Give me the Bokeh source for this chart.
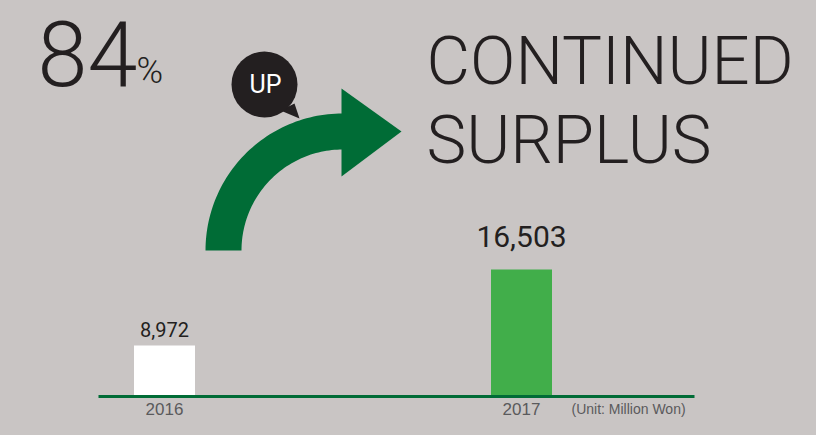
import numpy as np
from bokeh.plotting import figure
from bokeh.models import Range1d, Label, ColumnDataSource
from bokeh.embed import file_html
from bokeh.resources import INLINE

# ---- data ----
years = [2016, 2017]
surplus = [8972, 16503]            # Million Won
value_labels = ["8,972", "16,503"]
year_labels = ["2016", "2017"]
growth_text = "84"
title_lines = ["CONTINUED", "SURPLUS"]
unit_text = "(Unit: Million Won)"

# ---- style ----
BG = "#c9c5c4"
INK = "#231f20"
GRAY = "#5a5a5c"
DARK_GREEN = "#006c36"
BAR_COLORS = ["#ffffff", "#41ae4a"]
THIN = "Roboto Light"
REG = "Roboto"

W, H = 800, 419
# main range: figure pixel coordinates, y pointing down (used for decorations)
p = figure(width=W, height=H, output_backend="svg", toolbar_location=None,
           x_range=Range1d(0, W), y_range=Range1d(H, 0),
           min_border=0, background_fill_color=BG, border_fill_color=BG,
           outline_line_color=None)
p.axis.visible = False
p.grid.visible = False

# data ranges for the bars (value axis floor is truncated, as in the infographic)
p.extra_x_ranges = {"yr": Range1d(2016 - 164 / 357, 2017 + 279 / 357)}
p.extra_y_ranges = {"val": Range1d(1639, 43158)}
BASE = 3918

src = ColumnDataSource(dict(x=years, top=surplus, color=BAR_COLORS))
p.vbar(x="x", top="top", bottom=BASE, width=61 / 357, fill_color="color",
       line_color=None, source=src, x_range_name="yr", y_range_name="val")

# baseline
p.segment(x0=[2016 - 66 / 357], y0=[BASE], x1=[2017 + 173 / 357], y1=[BASE],
          line_color=DARK_GREEN, line_width=3, x_range_name="yr", y_range_name="val")

# value labels above bars
sizes = ["20px", "30px"]
offsets = [16, 33]
for yr, v, lab, fs, off in zip(years, surplus, value_labels, sizes, offsets):
    p.add_layout(Label(x=yr, y=v, x_range_name="yr", y_range_name="val", text=lab,
                       text_font=REG, text_font_size=fs, text_color=INK,
                       text_align="center", text_baseline="middle", y_offset=off))

# year labels under baseline
for yr, lab in zip(years, year_labels):
    p.add_layout(Label(x=yr, y=BASE, x_range_name="yr", y_range_name="val", text=lab,
                       text_font="Liberation Sans", text_font_size="17px", text_color=GRAY,
                       text_align="center", text_baseline="middle", y_offset=-12))
p.add_layout(Label(x=571, y=408, text=unit_text, text_font="Liberation Sans",
                   text_font_size="14px", text_color=GRAY, text_baseline="middle"))

# big "84%"
p.add_layout(Label(x=37, y=53, text=growth_text, text_font=THIN, text_font_size="90px",
                   text_color=INK, text_baseline="middle"))
p.add_layout(Label(x=136, y=70, text="%", text_font=THIN, text_font_size="36px",
                   text_color=INK, text_baseline="middle"))

# title
for i, line in enumerate(title_lines):
    p.add_layout(Label(x=426, y=60 + i * 79, text=line, text_font=THIN, text_font_size="67px",
                       text_color=INK, text_baseline="middle"))

# curved arrow (decoration)
cx, cy, r_out, r_in = 342, 250, 137, 101
th = np.linspace(np.pi, np.pi / 2, 60)
ax = np.concatenate([cx + r_out * np.cos(th), [cx + 1, cx + 1], cx + r_in * np.cos(th[::-1])])
ay = np.concatenate([cy - r_out * np.sin(th), [cy - r_out, cy - r_in], cy - r_in * np.sin(th[::-1])])
p.patch(ax, ay, fill_color=DARK_GREEN, line_color=None)
p.patch([341, 401, 341], [88, 131, 176], fill_color=DARK_GREEN, line_color=None)

# "UP" bubble (decoration)
p.patch([280, 294, 299], [110, 103, 118], fill_color=INK, line_color=None)
p.circle(x=[264], y=[84], radius=33, fill_color=INK, line_color=None)
p.add_layout(Label(x=265, y=84, text="UP", text_font=REG, text_font_size="25px",
                   text_color="#ffffff", text_align="center", text_baseline="middle"))

html = file_html(p, INLINE)
html = html.replace("<body>", '<body style="background-color:%s;">' % BG)
open("out.html", "w").write(html)
